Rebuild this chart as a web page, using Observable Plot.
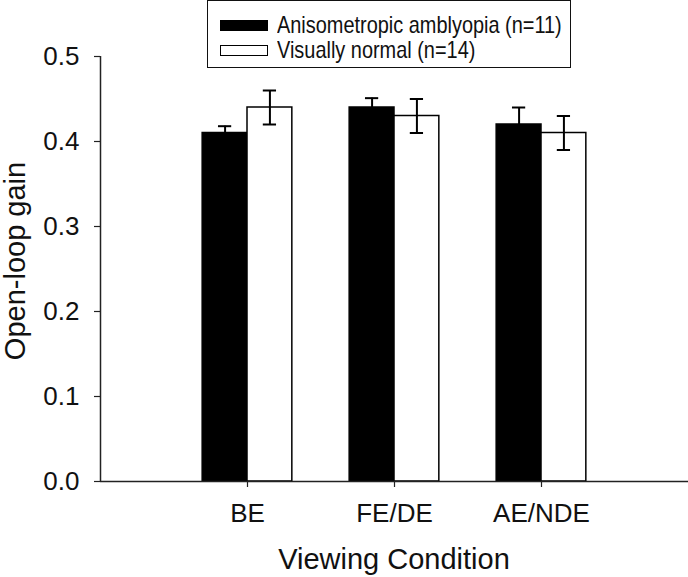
<!DOCTYPE html>
<html><head><meta charset="utf-8">
<script src="https://cdn.jsdelivr.net/npm/d3@7"></script>
<script src="https://cdn.jsdelivr.net/npm/@observablehq/plot@0.6"></script>
<style>
body{margin:0;background:#fff;font-family:"Liberation Sans",Arial,sans-serif}
#wrap{position:relative;width:688px;height:577px;overflow:hidden}
#legend{position:absolute;left:207px;top:0px;width:362px;height:66px;border:1.5px solid #111;background:#fff}
.lrow{position:absolute;left:12px;height:24px;display:flex;align-items:center;white-space:nowrap}
.sw{width:46px;height:9px;border:1.5px solid #000;margin-right:9px;flex:none}
.lt{font-size:24px;color:#111;transform:scaleX(0.83);transform-origin:left center;display:inline-block}
#xtitle{position:absolute;left:100px;width:588px;top:542px;text-align:center;font-size:29px;color:#111;line-height:34px}
#ytitle{position:absolute;left:15px;top:261px;font-size:29px;color:#111;white-space:nowrap;transform:translate(-50%,-50%) rotate(-90deg);line-height:30px}
</style></head><body><div id="wrap"></div>
<script>
const categories = ["BE", "FE/DE", "AE/NDE"];
const groups = ["Anisometropic amblyopia (n=11)", "Visually normal (n=14)"];
const groupFill = ["#000000", "#ffffff"];
const amblyopiaGain = [0.41, 0.44, 0.42];
const amblyopiaSE = [0.008, 0.011, 0.02];
const normalGain = [0.44, 0.43, 0.41];
const normalSE = [0.02, 0.02, 0.02];
const yTicks = [0, 0.1, 0.2, 0.3, 0.4, 0.5];
const xTitle = "Viewing Condition";
const yTitle = "Open-loop gain";

const barW = 0.305;
const capHalf = 0.045;
const rows = [];
categories.forEach((c, i) => {
  rows.push({cat: c, pos: i + 1, g: 0, v: amblyopiaGain[i], e: amblyopiaSE[i]});
  rows.push({cat: c, pos: i + 1, g: 1, v: normalGain[i], e: normalSE[i]});
});
const center = d => d.g === 0 ? d.pos - barW / 2 : d.pos + barW / 2;
const caps = [];
rows.forEach(d => {
  caps.push({x: center(d), y: d.v + d.e});
  if (d.g === 1) caps.push({x: center(d), y: d.v - d.e});
});

const chart = Plot.plot({
  width: 688,
  height: 577,
  marginLeft: 100,
  marginRight: 0,
  marginTop: 56,
  marginBottom: 96,
  style: {fontFamily: "'Liberation Sans', Arial, sans-serif", fontSize: "26px", color: "#111", background: "#fff"},
  x: {type: "linear", domain: [0, 4]},
  y: {domain: [0, 0.5]},
  marks: [
    Plot.rectY(rows, {
      x1: d => d.g === 0 ? d.pos - barW : d.pos,
      x2: d => d.g === 0 ? d.pos : d.pos + barW,
      y: "v",
      fill: d => groupFill[d.g],
      stroke: "#000",
      strokeWidth: 1.5
    }),
    Plot.ruleX(rows, {
      x: center,
      y1: d => d.g === 0 ? d.v : d.v - d.e,
      y2: d => d.v + d.e,
      stroke: "#000",
      strokeWidth: 2
    }),
    Plot.ruleY(caps, {
      y: "y",
      x1: d => d.x - capHalf,
      x2: d => d.x + capHalf,
      stroke: "#000",
      strokeWidth: 2
    }),
    Plot.ruleY([0], {stroke: "#222", strokeWidth: 1.5}),
    Plot.ruleX([0], {stroke: "#222", strokeWidth: 1.5}),
    Plot.axisY({ticks: yTicks, tickFormat: d => d.toFixed(1), tickSize: 6, tickPadding: 15, label: null, stroke: "#222", strokeWidth: 1.2, fontSize: 26}),
    Plot.axisX({ticks: [1, 2, 3], tickFormat: d => categories[d - 1], tickSize: 6, tickPadding: 16, label: null, stroke: "#222", strokeWidth: 1.2, fontSize: 26})
  ]
});

const wrap = document.getElementById("wrap");
wrap.appendChild(chart);

const legend = document.createElement("div");
legend.id = "legend";
groups.forEach((g, i) => {
  const row = document.createElement("div");
  row.className = "lrow";
  row.style.top = (i === 0 ? 12 : 37) + "px";
  const sw = document.createElement("span");
  sw.className = "sw";
  sw.style.background = groupFill[i];
  const t = document.createElement("span");
  t.className = "lt";
  t.textContent = g;
  row.appendChild(sw);
  row.appendChild(t);
  legend.appendChild(row);
});
wrap.appendChild(legend);

const xt = document.createElement("div");
xt.id = "xtitle";
xt.textContent = xTitle;
wrap.appendChild(xt);
const yt = document.createElement("div");
yt.id = "ytitle";
yt.textContent = yTitle;
wrap.appendChild(yt);
</script>
</body></html>
